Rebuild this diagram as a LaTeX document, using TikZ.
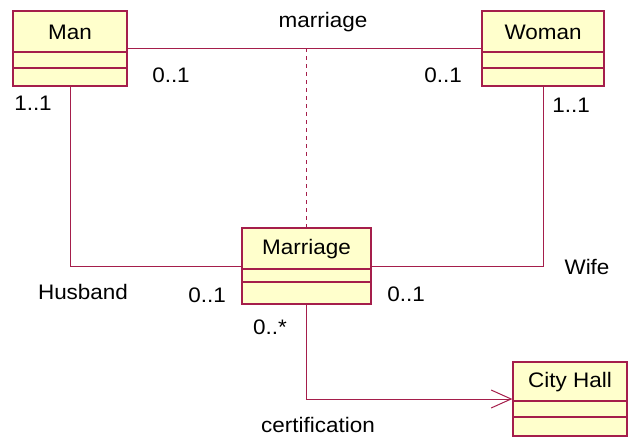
\documentclass[tikz,border=0pt]{standalone}
\usepackage{fontspec}
\setmainfont[FakeStretch=1.07]{Liberation Sans}
\usetikzlibrary{arrows.meta,calc}
\definecolor{umlred}{RGB}{165,30,75}
\definecolor{umlfill}{RGB}{255,255,204}
\tikzset{
  cls/.style={draw=umlred, fill=umlfill, line width=1.3pt, rectangle, inner sep=0pt},
  conn/.style={draw=umlred, line width=1pt},
  lbl/.style={font=\fontsize{21}{24}\selectfont, text=black, inner sep=0pt},
}
\begin{document}
\begin{tikzpicture}[x=1pt,y=-1pt]
\useasboundingbox (0,0) rectangle (631,438);
% class boxes
\node[cls, minimum width=114pt, minimum height=75pt] (man) at (70,48.5) {};
\node[cls, minimum width=122pt, minimum height=75pt] (woman) at (543,48.5) {};
\node[cls, minimum width=129pt, minimum height=76pt] (marriage) at (306.5,266) {};
\node[cls, minimum width=114pt, minimum height=74pt] (cityhall) at (570,399) {};
% compartments
\draw[umlred, line width=1.3pt] (13,52) -- (127,52) (13,68) -- (127,68);
\draw[umlred, line width=1.3pt] (482,52) -- (604,52) (482,68) -- (604,68);
\draw[umlred, line width=1.3pt] (242,269) -- (371,269) (242,282) -- (371,282);
\draw[umlred, line width=1.3pt] (513,401) -- (627,401) (513,417) -- (627,417);
% class names
\node[lbl] (tman) at (70,32) {Man};
\node[lbl] (twoman) at (543,32) {Woman};
\node[lbl] (tmarriage) at (306.5,249) {Marriage};
\node[lbl] (tcity) at (570,382) {City Hall};
% connectors
\draw[conn] (man.east) -- (woman.west);
\coordinate (mid) at (man.east -| marriage.north);
\draw[conn, dash pattern=on 4pt off 4pt] (mid) -- (marriage.north);
\draw[conn] (man.south) |- (marriage.west);
\draw[conn] (woman.south) |- (marriage.east);
\draw[conn, -{Straight Barb[length=20pt,width=18pt,line width=1pt]}] (marriage.south) |- (cityhall.west);
% labels
\node[lbl] (lmarr) at (323,22) {marriage};
\node[lbl] (l1) at (171,75) {0..1};
\node[lbl] (l2) at (443,75) {0..1};
\node[lbl] (l3) at (33,103) {1..1};
\node[lbl] (l4) at (571,105) {1..1};
\node[lbl] (lhus) at (83,292) {Husband};
\node[lbl] (l5) at (207,295) {0..1};
\node[lbl] (l6) at (406,294) {0..1};
\node[lbl] (lwife) at (587,267) {Wife};
\node[lbl] (l7) at (270,327) {0..*};
\node[lbl] (lcert) at (318,425) {certification};
\end{tikzpicture}
\end{document}
